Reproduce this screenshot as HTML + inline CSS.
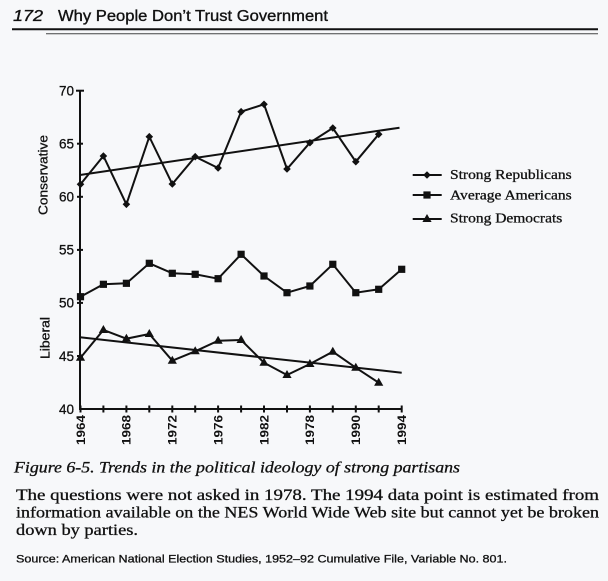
<!DOCTYPE html>
<html><head><meta charset="utf-8"><style>
html,body{margin:0;padding:0;background:#f7f8fa;}
svg{display:block;}
</style></head><body>
<svg width="608" height="581" viewBox="0 0 608 581" xmlns="http://www.w3.org/2000/svg">
<rect width="608" height="581" fill="#f7f8fa"/>
<g fill="#111" stroke="#111" stroke-width="0.35" font-family="'Liberation Sans', sans-serif">
<text x="13" y="21" font-size="16" font-style="italic" textLength="30" lengthAdjust="spacingAndGlyphs">172</text>
<text x="58" y="21" font-size="15.5" textLength="270" lengthAdjust="spacingAndGlyphs">Why People Don’t Trust Government</text>
</g>
<line x1="12" y1="29.3" x2="598" y2="29.3" stroke="#111" stroke-width="2"/>
<line x1="46" y1="33.8" x2="598" y2="33.8" stroke="#444" stroke-width="1"/>

<!-- axes -->
<g stroke="#111" stroke-width="2" fill="none">
<line x1="80" y1="90" x2="80" y2="409"/>
<line x1="79" y1="409" x2="402" y2="409"/>
<line x1="76" y1="90.7" x2="84" y2="90.7"/>
<line x1="77" y1="143.7" x2="83" y2="143.7"/>
<line x1="77" y1="196.8" x2="83" y2="196.8"/>
<line x1="77" y1="249.9" x2="83" y2="249.9"/>
<line x1="77" y1="302.9" x2="83" y2="302.9"/>
<line x1="77" y1="356" x2="83" y2="356"/>
<path d="M80.5 405.5V412.5 M103.4 405.5V412.5 M126.4 405.5V412.5 M149.3 405.5V412.5 M172.3 405.5V412.5 M195.2 405.5V412.5 M218.1 405.5V412.5 M241.1 405.5V412.5 M264 405.5V412.5 M287 405.5V412.5 M309.9 405.5V412.5 M332.8 405.5V412.5 M355.8 405.5V412.5 M378.7 405.5V412.5 M401.7 405.5V412.5"/>
</g>

<g fill="#111" stroke="#111" stroke-width="0.3" font-family="'Liberation Sans', sans-serif" font-size="13.5" text-anchor="end">
<text x="74" y="95.5">70</text>
<text x="74" y="148.5">65</text>
<text x="74" y="201.5">60</text>
<text x="74" y="254.5">55</text>
<text x="74" y="307.5">50</text>
<text x="74" y="361">45</text>
<text x="74" y="414">40</text>
</g>
<g fill="#111" stroke="#111" stroke-width="0.3" font-family="'Liberation Sans', sans-serif" font-size="12.5">
<text transform="translate(47.5,175) rotate(-90)" text-anchor="middle" textLength="80" lengthAdjust="spacingAndGlyphs">Conservative</text>
<text transform="translate(49.5,338) rotate(-90)" text-anchor="middle" textLength="42" lengthAdjust="spacingAndGlyphs">Liberal</text>
</g>
<g fill="#111" font-family="'Liberation Sans', sans-serif" font-size="12" font-weight="bold" text-anchor="end">
<text transform="translate(84.8,415) rotate(-90)" textLength="30" lengthAdjust="spacingAndGlyphs">1964</text>
<text transform="translate(130.7,415) rotate(-90)" textLength="30" lengthAdjust="spacingAndGlyphs">1968</text>
<text transform="translate(176.6,415) rotate(-90)" textLength="30" lengthAdjust="spacingAndGlyphs">1972</text>
<text transform="translate(222.4,415) rotate(-90)" textLength="30" lengthAdjust="spacingAndGlyphs">1976</text>
<text transform="translate(268.3,415) rotate(-90)" textLength="30" lengthAdjust="spacingAndGlyphs">1982</text>
<text transform="translate(314.2,415) rotate(-90)" textLength="30" lengthAdjust="spacingAndGlyphs">1978</text>
<text transform="translate(360.1,415) rotate(-90)" textLength="30" lengthAdjust="spacingAndGlyphs">1990</text>
<text transform="translate(406,415) rotate(-90)" textLength="30" lengthAdjust="spacingAndGlyphs">1994</text>
</g>

<!-- trend lines -->
<g stroke="#111" stroke-width="2" fill="none">
<line x1="80" y1="175" x2="399.5" y2="127.7"/>
<line x1="80" y1="337.3" x2="401.7" y2="372.7"/>
</g>

<!-- series -->
<g stroke="#111" stroke-width="2" fill="none" stroke-linejoin="miter">
<polyline points="80.5,184.3 103.4,156 126.4,204.3 149.3,136.7 172.3,184 195.2,156.7 218.1,168 241.1,111.7 264,104.3 287,169 309.9,142.7 332.8,128 355.8,161.7 378.7,134.3"/>
<polyline points="80.5,296.7 103.4,284.3 126.4,283.3 149.3,263.3 172.3,273.3 195.2,274.3 218.1,278.7 241.1,254.3 264,276 287,292.7 309.9,286 332.8,264.3 355.8,292.7 378.7,289.3 401.7,269.3"/>
<polyline points="80.5,357.7 103.4,330 126.4,338.7 149.3,334 172.3,360.7 195.2,351.3 218.1,340.7 241.1,340 264,362.7 287,375 309.9,364 332.8,351.7 355.8,367.7 378.7,382.7"/>
</g>
<defs>
<path id="dm" d="M0,-3.8 L3.8,0 L0,3.8 L-3.8,0Z"/>
<rect id="sq" x="-3.6" y="-3.6" width="7.2" height="7.2"/>
<path id="tr" d="M0,-5 L4.6,3 L-4.6,3Z"/>
</defs>
<g fill="#111">
<use href="#dm" x="80.5" y="184.3"/><use href="#dm" x="103.4" y="156"/><use href="#dm" x="126.4" y="204.3"/><use href="#dm" x="149.3" y="136.7"/><use href="#dm" x="172.3" y="184"/><use href="#dm" x="195.2" y="156.7"/><use href="#dm" x="218.1" y="168"/><use href="#dm" x="241.1" y="111.7"/><use href="#dm" x="264" y="104.3"/><use href="#dm" x="287" y="169"/><use href="#dm" x="309.9" y="142.7"/><use href="#dm" x="332.8" y="128"/><use href="#dm" x="355.8" y="161.7"/><use href="#dm" x="378.7" y="134.3"/>
<use href="#sq" x="80.5" y="296.7"/><use href="#sq" x="103.4" y="284.3"/><use href="#sq" x="126.4" y="283.3"/><use href="#sq" x="149.3" y="263.3"/><use href="#sq" x="172.3" y="273.3"/><use href="#sq" x="195.2" y="274.3"/><use href="#sq" x="218.1" y="278.7"/><use href="#sq" x="241.1" y="254.3"/><use href="#sq" x="264" y="276"/><use href="#sq" x="287" y="292.7"/><use href="#sq" x="309.9" y="286"/><use href="#sq" x="332.8" y="264.3"/><use href="#sq" x="355.8" y="292.7"/><use href="#sq" x="378.7" y="289.3"/><use href="#sq" x="401.7" y="269.3"/>
<use href="#tr" x="80.5" y="357.7"/><use href="#tr" x="103.4" y="330"/><use href="#tr" x="126.4" y="338.7"/><use href="#tr" x="149.3" y="334"/><use href="#tr" x="172.3" y="360.7"/><use href="#tr" x="195.2" y="351.3"/><use href="#tr" x="218.1" y="340.7"/><use href="#tr" x="241.1" y="340"/><use href="#tr" x="264" y="362.7"/><use href="#tr" x="287" y="375"/><use href="#tr" x="309.9" y="364"/><use href="#tr" x="332.8" y="351.7"/><use href="#tr" x="355.8" y="367.7"/><use href="#tr" x="378.7" y="382.7"/>
</g>

<!-- legend -->
<g stroke="#111" stroke-width="2">
<line x1="412.7" y1="175" x2="441.7" y2="175"/>
<line x1="412.7" y1="195" x2="441.7" y2="195"/>
<line x1="412.7" y1="219" x2="441.7" y2="219"/>
</g>
<g fill="#111">
<use href="#dm" x="427" y="175"/>
<use href="#sq" x="427" y="195"/>
<use href="#tr" x="427" y="219"/>
</g>
<g fill="#111" stroke="#111" stroke-width="0.3" font-family="'Liberation Serif', serif" font-size="13.5">
<text x="450" y="179" textLength="121.7" lengthAdjust="spacingAndGlyphs">Strong Republicans</text>
<text x="450" y="199.3" textLength="121.7" lengthAdjust="spacingAndGlyphs">Average Americans</text>
<text x="450" y="222.3" textLength="112.3" lengthAdjust="spacingAndGlyphs">Strong Democrats</text>
</g>

<!-- caption -->
<g fill="#111" stroke="#111" stroke-width="0.3" font-family="'Liberation Serif', serif">
<text x="14" y="472.7" font-size="16" font-style="italic" textLength="446" lengthAdjust="spacingAndGlyphs">Figure 6-5. Trends in the political ideology of strong partisans</text>
<text x="16" y="500" font-size="16" textLength="583" lengthAdjust="spacingAndGlyphs">The questions were not asked in 1978. The 1994 data point is estimated from</text>
<text x="16" y="517.7" font-size="16" textLength="583" lengthAdjust="spacingAndGlyphs">information available on the NES World Wide Web site but cannot yet be broken</text>
<text x="16" y="535" font-size="16" textLength="122" lengthAdjust="spacingAndGlyphs">down by parties.</text>
</g>
<text x="16" y="562.7" fill="#111" stroke="#111" stroke-width="0.3" font-family="'Liberation Sans', sans-serif" font-size="11" textLength="491" lengthAdjust="spacingAndGlyphs">Source: American National Election Studies, 1952–92 Cumulative File, Variable No. 801.</text>
</svg>
</body></html>
